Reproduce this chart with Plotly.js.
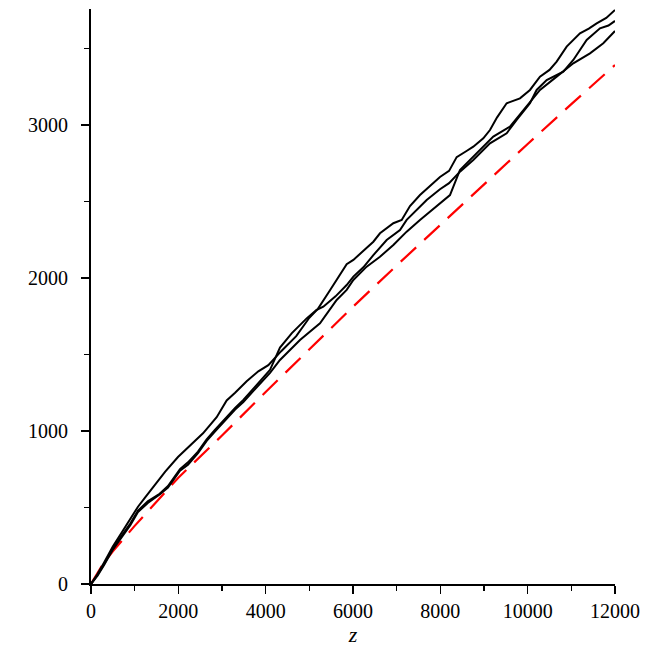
<!DOCTYPE html>
<html>
<head>
<meta charset="utf-8">
<script src="https://cdn.plot.ly/plotly-3.0.1.min.js"></script>
<style>
  html, body { margin: 0; padding: 0; background: #fff; }
  #plot { width: 654px; height: 654px; }
</style>
</head>
<body>
<div id="plot"></div>
<script>
// three walks (z, value)
const zA = [0, 150, 300, 500, 700, 900, 1076, 1250, 1458, 1700, 1992, 2200, 2400, 2565, 2878, 3107, 3300, 3565, 3832, 4061, 4350, 4700, 5000, 5200, 5473, 5702, 5855, 6008, 6237, 6466, 6618, 6924, 7115, 7305, 7534, 7839, 7992, 8200, 8374, 8600, 8755, 8984, 9137, 9300, 9519, 9824, 10053, 10282, 10500, 10664, 10893, 11198, 11400, 11580, 11800, 12000];
const yA = [0, 65, 140, 245, 335, 425, 505, 570, 645, 735, 830, 885, 935, 985, 1090, 1200, 1250, 1325, 1390, 1430, 1520, 1620, 1740, 1800, 1920, 2020, 2090, 2118, 2180, 2237, 2292, 2358, 2379, 2470, 2542, 2619, 2660, 2700, 2790, 2830, 2858, 2913, 2967, 3050, 3142, 3174, 3229, 3316, 3360, 3414, 3512, 3599, 3630, 3664, 3700, 3752];

const zB = [0, 150, 300, 500, 700, 900, 1076, 1300, 1572, 1763, 2038, 2221, 2450, 2649, 2832, 3107, 3300, 3489, 3700, 3908, 4100, 4328, 4600, 4939, 5160, 5320, 5600, 5855, 6008, 6237, 6466, 6771, 7076, 7229, 7381, 7687, 7992, 8200, 8450, 8755, 9137, 9519, 9748, 10053, 10206, 10435, 10816, 11045, 11351, 11656, 11850, 12000];
const yB = [0, 60, 130, 230, 315, 395, 480, 540, 590, 640, 750, 795, 865, 945, 1005, 1094, 1150, 1203, 1270, 1333, 1400, 1545, 1640, 1736, 1790, 1812, 1880, 1954, 2009, 2070, 2150, 2248, 2314, 2380, 2423, 2510, 2580, 2620, 2695, 2771, 2880, 2946, 3033, 3142, 3229, 3294, 3348, 3425, 3556, 3632, 3650, 3680];

const zC = [0, 150, 300, 500, 700, 900, 1076, 1300, 1572, 1763, 2038, 2221, 2450, 2649, 2832, 3107, 3300, 3489, 3700, 3908, 4100, 4328, 4786, 5244, 5626, 5855, 6008, 6313, 6618, 6924, 7229, 7534, 7915, 8221, 8450, 8832, 9213, 9595, 9900, 10282, 10664, 11045, 11427, 11732, 12000];
const yC = [0, 55, 125, 225, 305, 385, 470, 530, 585, 630, 740, 780, 855, 935, 995, 1080, 1140, 1190, 1255, 1320, 1380, 1464, 1595, 1704, 1856, 1922, 1987, 2074, 2139, 2216, 2303, 2379, 2466, 2542, 2706, 2815, 2924, 2989, 3098, 3229, 3316, 3403, 3468, 3534, 3614];

// red dashed reference curve
const zRef = [0, 250, 500, 1000, 2000, 3000, 4000, 5000, 6000, 7000, 8000, 9000, 10000, 11000, 12000];
const yRef = [0, 120, 214, 380, 695, 970, 1255, 1535, 1812, 2082, 2348, 2612, 2876, 3136, 3392];

const xTicks = [0, 2000, 4000, 6000, 8000, 10000, 12000];
const yTicks = [0, 1000, 2000, 3000];

const serif = 'Liberation Serif, Times New Roman, serif';
const walk = { color: '#000', width: 2 };

const data = [
    { x: zRef, y: yRef, type: 'scatter', mode: 'lines', line: { color: '#ff0000', width: 2.2, dash: '21px,11px' } },
    { x: zA, y: yA, type: 'scatter', mode: 'lines', line: walk },
    { x: zB, y: yB, type: 'scatter', mode: 'lines', line: walk },
    { x: zC, y: yC, type: 'scatter', mode: 'lines', line: walk },
];

const layout = {
    width: 654, height: 654,
    margin: { l: 91, r: 39, t: 9, b: 70 },
    paper_bgcolor: '#fff', plot_bgcolor: '#fff',
    showlegend: false,
    hovermode: false,
    font: { family: serif, size: 20, color: '#000' },
    xaxis: {
        range: [0, 12000],
        tickvals: xTicks, ticktext: xTicks.map(String),
        showgrid: false, zeroline: false,
        showline: true, linecolor: '#000', linewidth: 2,
        ticks: 'outside', ticklen: 8, tickwidth: 1.5, tickcolor: '#000',
        ticklabelstandoff: 0,
        minor: { dtick: 1000, tick0: 0, ticks: 'outside', ticklen: 5, tickwidth: 1.5, tickcolor: '#000', showgrid: false },
        title: { text: 'z', font: { family: serif, size: 22, style: 'italic' }, standoff: 4 },
    },
    yaxis: {
        range: [0, 3758],
        tickvals: yTicks, ticktext: yTicks.map(String),
        showgrid: false, zeroline: false,
        showline: true, linecolor: '#000', linewidth: 2,
        ticks: 'outside', ticklen: 8, tickwidth: 1.5, tickcolor: '#000',
        ticklabelstandoff: 9,
        minor: { dtick: 500, tick0: 0, ticks: 'outside', ticklen: 5, tickwidth: 1.5, tickcolor: '#000', showgrid: false },
    },
};

Plotly.newPlot('plot', data, layout, { displayModeBar: false, staticPlot: true });
</script>
</body>
</html>
